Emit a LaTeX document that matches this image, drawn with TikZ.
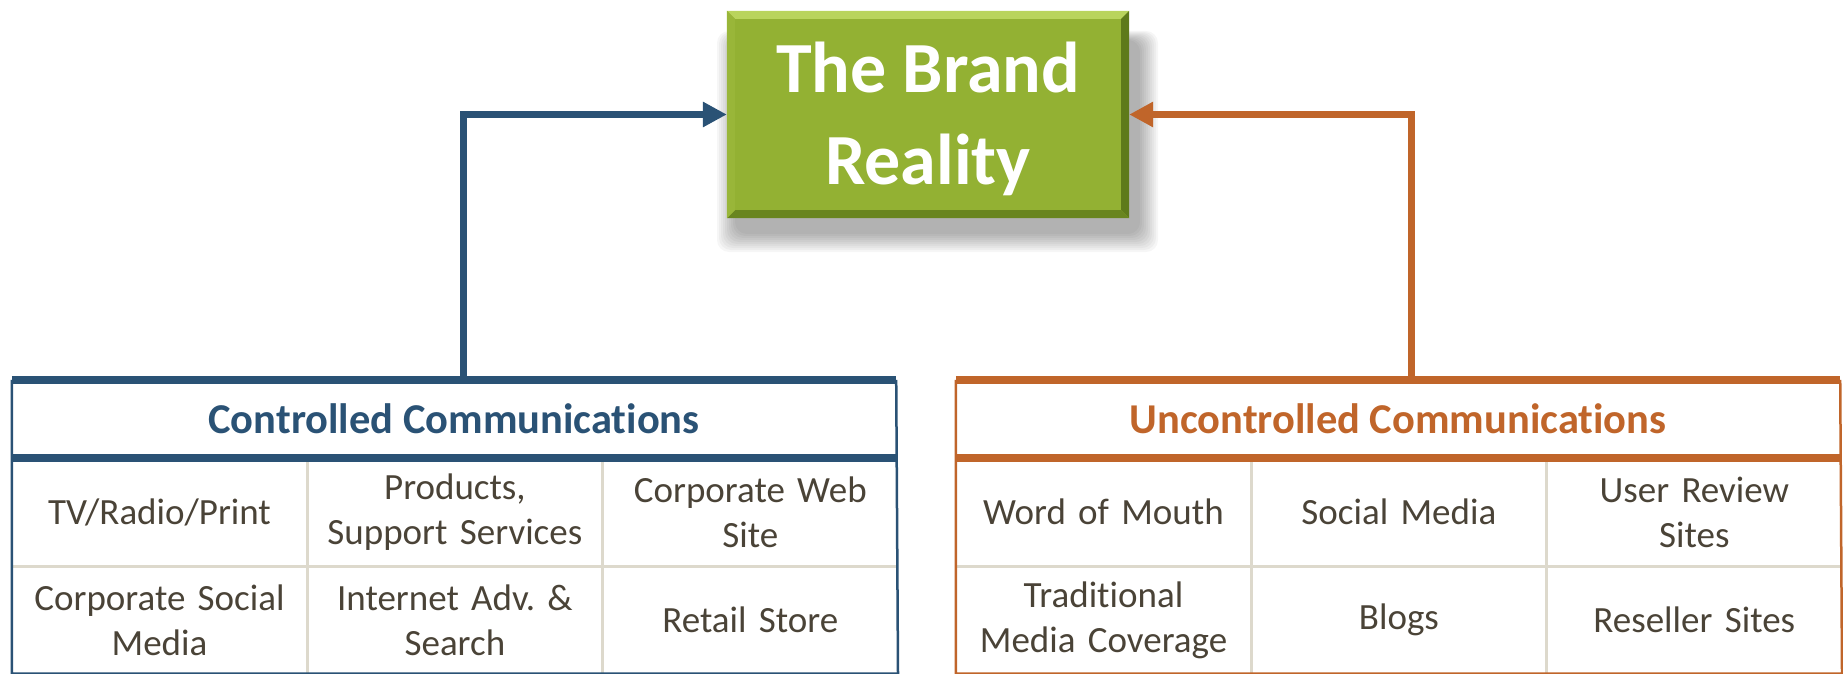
\documentclass[tikz,border=0pt]{standalone}
\usepackage{fontspec}
\setmainfont{Carlito}[Ligatures=NoCommon]
\usetikzlibrary{arrows.meta,calc,positioning}
\frenchspacing

\definecolor{ctrlblue}{HTML}{2A5275}
\definecolor{unctrlorange}{HTML}{C0652A}
\definecolor{brandgreen}{HTML}{93B133}
\definecolor{brandlight}{HTML}{B9D45C}
\definecolor{branddark}{HTML}{5E7A1A}
\definecolor{cellgrid}{HTML}{DDD9CC}
\definecolor{celltext}{HTML}{4A4337}

\tikzset{
  cell/.style={minimum width=295pt, minimum height=108pt, inner sep=0pt,
    text width=285pt, align=center, text=celltext,
    font=\fontsize{37}{45}\selectfont},
  header/.style={minimum width=884pt, minimum height=78pt, inner sep=0pt,
    font=\bfseries\fontsize{42.5}{48}\selectfont},
  gridline/.style={draw=cellgrid, line width=3pt},
  flow/.style={line width=7pt, -{Triangle[length=24pt,width=24pt]}}
}

\begin{document}
\begin{tikzpicture}[x=1pt, y=-1pt]
  \useasboundingbox (0,0) rectangle (1843,674);

  % shadow of the brand box
  \foreach \i in {0,...,9}
    \fill[black, opacity=0.035, rounded corners=12pt]
      (735-2*\i, 40-\i) rectangle (1140+2*\i, 234+2*\i);

  % the brand box
  \node[fill=brandgreen, minimum width=402pt, minimum height=207pt,
    inner sep=0pt] (brand) at (928,114.5) {};
  \fill[brandlight] (brand.north west) -- (brand.north east)
    -- ++(-8,8) -- ($(brand.north west)+(8,8)$) -- cycle;
  \fill[branddark] (brand.north east) -- (brand.south east)
    -- ++(-8,-8) -- ($(brand.north east)+(-8,8)$) -- cycle;
  \fill[branddark!80!brandgreen] (brand.south west) -- (brand.south east)
    -- ++(-8,-8) -- ($(brand.south west)+(8,-8)$) -- cycle;
  \fill[brandgreen!85!brandlight] (brand.north west) -- (brand.south west)
    -- ++(8,-8) -- ($(brand.north west)+(8,8)$) -- cycle;
  \node[text=white, align=center, font=\bfseries\fontsize{72}{92}\selectfont]
    at ($(brand.center)+(0,4)$) {The Brand\\Reality};

  % controlled communications
  \node[header, text=ctrlblue] (ctrlhead) at (454,419) {Controlled Communications};
  \begin{scope}[every node/.style={cell}]
    \node (c11) at (159.5,512) {TV/Radio/Print};
    \node (c12) [right=0pt of c11] {Products,\\Support Services};
    \node (c13) [right=0pt of c12] {Corporate Web\\Site};
    \node (c21) [below=0pt of c11, minimum height=107pt] {Corporate Social\\Media};
    \node (c22) [right=0pt of c21, minimum height=107pt] {Internet Adv. \&\\Search};
    \node (c23) [right=0pt of c22, minimum height=107pt] {Retail Store};
  \end{scope}
  \draw[gridline] (c11.south west) -- (c13.south east);
  \draw[gridline] (c11.north east) -- (c21.south east);
  \draw[gridline] (c12.north east) -- (c22.south east);
  \draw[ctrlblue, line width=2.5pt] (ctrlhead.north west) -- (c21.south west)
    -- (c23.south east) -- (ctrlhead.north east);
  \draw[ctrlblue, line width=8pt] (ctrlhead.north west) -- (ctrlhead.north east);
  \draw[ctrlblue, line width=8pt] (ctrlhead.south west) -- (ctrlhead.south east);

  % uncontrolled communications
  \node[header, text=unctrlorange] (unctrlhead) at (1398,419) {Uncontrolled Communications};
  \begin{scope}[every node/.style={cell}]
    \node (u11) at (1103.5,512) {Word of Mouth};
    \node (u12) [right=0pt of u11] {Social Media};
    \node (u13) [right=0pt of u12] {User Review\\Sites};
    \node (u21) [below=0pt of u11, minimum height=107pt] {Traditional\\Media Coverage};
    \node (u22) [right=0pt of u21, minimum height=107pt] {Blogs};
    \node (u23) [right=0pt of u22, minimum height=107pt] {Reseller Sites};
  \end{scope}
  \draw[gridline] (u11.south west) -- (u13.south east);
  \draw[gridline] (u11.north east) -- (u21.south east);
  \draw[gridline] (u12.north east) -- (u22.south east);
  \draw[unctrlorange, line width=2.5pt] (unctrlhead.north west) -- (u21.south west)
    -- (u23.south east) -- (unctrlhead.north east);
  \draw[unctrlorange, line width=8pt] (unctrlhead.north west) -- (unctrlhead.north east);
  \draw[unctrlorange, line width=8pt] (unctrlhead.south west) -- (unctrlhead.south east);

  % arrows into the brand box
  \coordinate (ctrlout) at ($(ctrlhead.north)+(9,-4)$);
  \coordinate (unctrlout) at ($(unctrlhead.north)+(13,-4)$);
  \draw[flow, ctrlblue] (ctrlout) |- (brand.west);
  \draw[flow, unctrlorange] (unctrlout) |- (brand.east);
\end{tikzpicture}
\end{document}
